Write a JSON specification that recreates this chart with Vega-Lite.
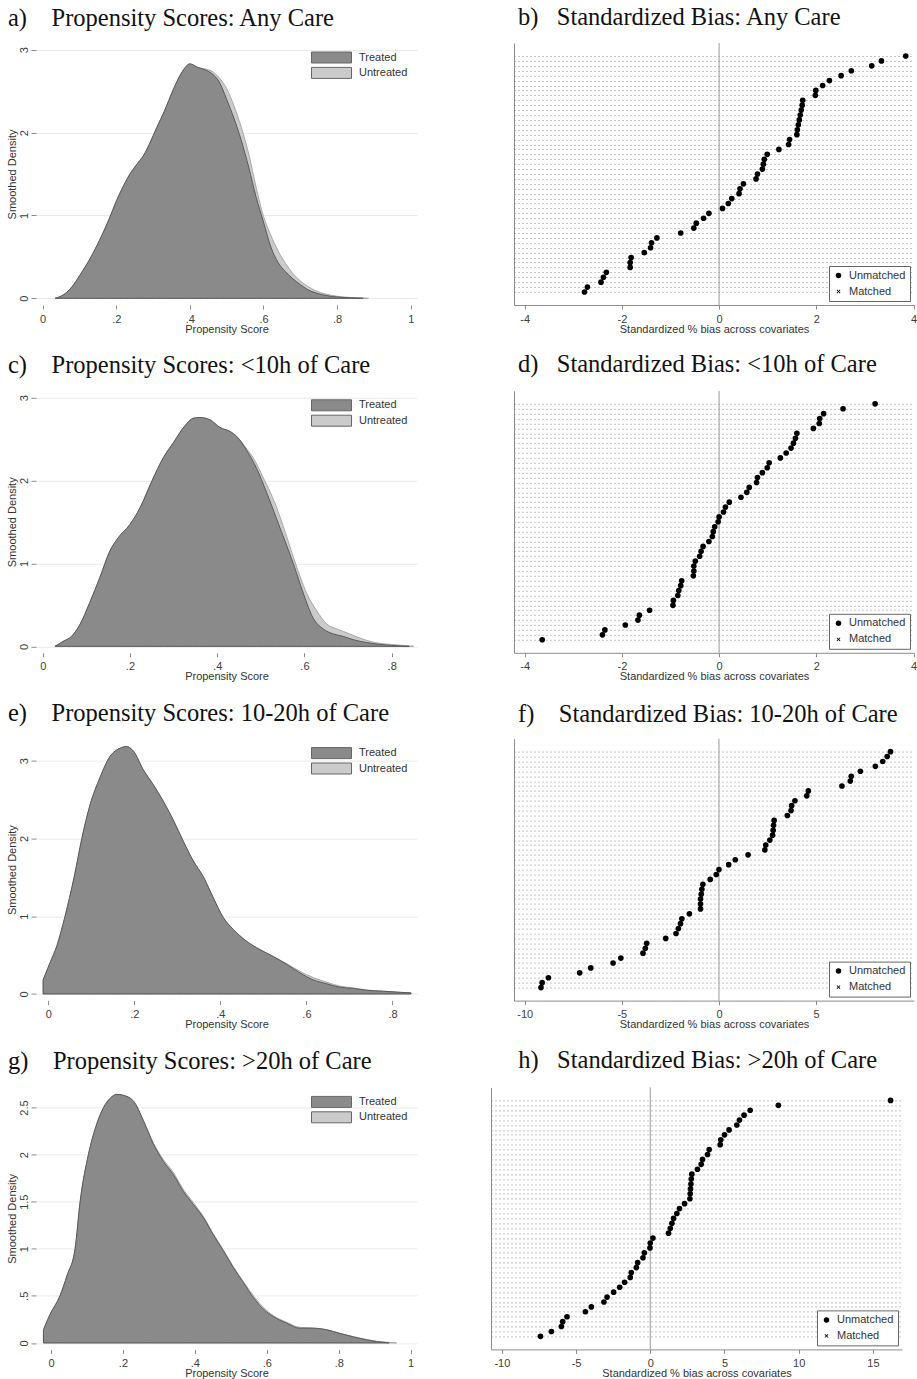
{
"$schema":"https://vega.github.io/schema/vega-lite/v6.json",
"padding":{"left":6,"top":5,"right":0,"bottom":0},
"background":"white",
"datasets":{
"dens_a":[
{"group":"Treated","score":0.034,"density":0},{"group":"Treated","score":0.05,"density":0.025},{"group":"Treated","score":0.065,"density":0.07},{"group":"Treated","score":0.08,"density":0.14},{"group":"Treated","score":0.1,"density":0.27},{"group":"Treated","score":0.12,"density":0.41},{"group":"Treated","score":0.14,"density":0.57},{"group":"Treated","score":0.16,"density":0.75},{"group":"Treated","score":0.18,"density":0.95},{"group":"Treated","score":0.2,"density":1.17},{"group":"Treated","score":0.22,"density":1.36},{"group":"Treated","score":0.24,"density":1.52},{"group":"Treated","score":0.26,"density":1.64},{"group":"Treated","score":0.275,"density":1.73},{"group":"Treated","score":0.29,"density":1.86},{"group":"Treated","score":0.31,"density":2.06},{"group":"Treated","score":0.33,"density":2.25},{"group":"Treated","score":0.355,"density":2.52},{"group":"Treated","score":0.38,"density":2.74},{"group":"Treated","score":0.4,"density":2.83},{"group":"Treated","score":0.42,"density":2.79},{"group":"Treated","score":0.44,"density":2.76},{"group":"Treated","score":0.46,"density":2.71},{"group":"Treated","score":0.48,"density":2.61},{"group":"Treated","score":0.5,"density":2.4},{"group":"Treated","score":0.52,"density":2.17},{"group":"Treated","score":0.54,"density":1.9},{"group":"Treated","score":0.56,"density":1.58},{"group":"Treated","score":0.58,"density":1.22},{"group":"Treated","score":0.6,"density":0.92},{"group":"Treated","score":0.62,"density":0.62},{"group":"Treated","score":0.64,"density":0.43},{"group":"Treated","score":0.66,"density":0.32},{"group":"Treated","score":0.68,"density":0.235},{"group":"Treated","score":0.7,"density":0.165},{"group":"Treated","score":0.72,"density":0.105},{"group":"Treated","score":0.75,"density":0.055},{"group":"Treated","score":0.79,"density":0.02},{"group":"Treated","score":0.84,"density":0.005},{"group":"Treated","score":0.87,"density":0},
{"group":"Untreated","score":0.034,"density":0},{"group":"Untreated","score":0.05,"density":0.025},{"group":"Untreated","score":0.065,"density":0.07},{"group":"Untreated","score":0.08,"density":0.14},{"group":"Untreated","score":0.1,"density":0.27},{"group":"Untreated","score":0.12,"density":0.41},{"group":"Untreated","score":0.14,"density":0.57},{"group":"Untreated","score":0.16,"density":0.75},{"group":"Untreated","score":0.18,"density":0.95},{"group":"Untreated","score":0.2,"density":1.17},{"group":"Untreated","score":0.22,"density":1.36},{"group":"Untreated","score":0.24,"density":1.52},{"group":"Untreated","score":0.26,"density":1.64},{"group":"Untreated","score":0.275,"density":1.73},{"group":"Untreated","score":0.29,"density":1.86},{"group":"Untreated","score":0.31,"density":2.06},{"group":"Untreated","score":0.33,"density":2.25},{"group":"Untreated","score":0.355,"density":2.52},{"group":"Untreated","score":0.38,"density":2.74},{"group":"Untreated","score":0.4,"density":2.82},{"group":"Untreated","score":0.42,"density":2.78},{"group":"Untreated","score":0.44,"density":2.77},{"group":"Untreated","score":0.46,"density":2.74},{"group":"Untreated","score":0.48,"density":2.66},{"group":"Untreated","score":0.5,"density":2.53},{"group":"Untreated","score":0.52,"density":2.32},{"group":"Untreated","score":0.54,"density":2.06},{"group":"Untreated","score":0.56,"density":1.74},{"group":"Untreated","score":0.58,"density":1.34},{"group":"Untreated","score":0.6,"density":0.99},{"group":"Untreated","score":0.62,"density":0.76},{"group":"Untreated","score":0.64,"density":0.57},{"group":"Untreated","score":0.66,"density":0.42},{"group":"Untreated","score":0.68,"density":0.3},{"group":"Untreated","score":0.7,"density":0.21},{"group":"Untreated","score":0.72,"density":0.145},{"group":"Untreated","score":0.74,"density":0.095},{"group":"Untreated","score":0.77,"density":0.05},{"group":"Untreated","score":0.8,"density":0.024},{"group":"Untreated","score":0.84,"density":0.009},{"group":"Untreated","score":0.885,"density":0}
],
"dens_c":[
{"group":"Treated","score":0.028,"density":0},{"group":"Treated","score":0.047,"density":0.06},{"group":"Treated","score":0.066,"density":0.12},{"group":"Treated","score":0.086,"density":0.27},{"group":"Treated","score":0.108,"density":0.53},{"group":"Treated","score":0.131,"density":0.83},{"group":"Treated","score":0.154,"density":1.15},{"group":"Treated","score":0.173,"density":1.31},{"group":"Treated","score":0.2,"density":1.47},{"group":"Treated","score":0.223,"density":1.67},{"group":"Treated","score":0.25,"density":1.99},{"group":"Treated","score":0.277,"density":2.28},{"group":"Treated","score":0.3,"density":2.46},{"group":"Treated","score":0.326,"density":2.66},{"group":"Treated","score":0.345,"density":2.75},{"group":"Treated","score":0.36,"density":2.76},{"group":"Treated","score":0.384,"density":2.73},{"group":"Treated","score":0.406,"density":2.64},{"group":"Treated","score":0.43,"density":2.59},{"group":"Treated","score":0.445,"density":2.53},{"group":"Treated","score":0.468,"density":2.36},{"group":"Treated","score":0.49,"density":2.15},{"group":"Treated","score":0.513,"density":1.86},{"group":"Treated","score":0.536,"density":1.54},{"group":"Treated","score":0.559,"density":1.22},{"group":"Treated","score":0.575,"density":0.99},{"group":"Treated","score":0.598,"density":0.63},{"group":"Treated","score":0.62,"density":0.34},{"group":"Treated","score":0.643,"density":0.21},{"group":"Treated","score":0.666,"density":0.15},{"group":"Treated","score":0.689,"density":0.12},{"group":"Treated","score":0.712,"density":0.08},{"group":"Treated","score":0.743,"density":0.045},{"group":"Treated","score":0.78,"density":0.02},{"group":"Treated","score":0.82,"density":0.004},{"group":"Treated","score":0.84,"density":0},
{"group":"Untreated","score":0.028,"density":0},{"group":"Untreated","score":0.047,"density":0.06},{"group":"Untreated","score":0.066,"density":0.12},{"group":"Untreated","score":0.086,"density":0.27},{"group":"Untreated","score":0.108,"density":0.53},{"group":"Untreated","score":0.131,"density":0.83},{"group":"Untreated","score":0.154,"density":1.15},{"group":"Untreated","score":0.173,"density":1.31},{"group":"Untreated","score":0.2,"density":1.47},{"group":"Untreated","score":0.223,"density":1.67},{"group":"Untreated","score":0.25,"density":1.99},{"group":"Untreated","score":0.277,"density":2.28},{"group":"Untreated","score":0.3,"density":2.46},{"group":"Untreated","score":0.326,"density":2.66},{"group":"Untreated","score":0.345,"density":2.75},{"group":"Untreated","score":0.36,"density":2.76},{"group":"Untreated","score":0.384,"density":2.73},{"group":"Untreated","score":0.406,"density":2.64},{"group":"Untreated","score":0.43,"density":2.59},{"group":"Untreated","score":0.445,"density":2.53},{"group":"Untreated","score":0.468,"density":2.38},{"group":"Untreated","score":0.483,"density":2.27},{"group":"Untreated","score":0.506,"density":2.03},{"group":"Untreated","score":0.529,"density":1.77},{"group":"Untreated","score":0.55,"density":1.47},{"group":"Untreated","score":0.575,"density":1.07},{"group":"Untreated","score":0.59,"density":0.84},{"group":"Untreated","score":0.605,"density":0.64},{"group":"Untreated","score":0.628,"density":0.43},{"group":"Untreated","score":0.651,"density":0.27},{"group":"Untreated","score":0.674,"density":0.21},{"group":"Untreated","score":0.704,"density":0.15},{"group":"Untreated","score":0.727,"density":0.1},{"group":"Untreated","score":0.758,"density":0.05},{"group":"Untreated","score":0.796,"density":0.024},{"group":"Untreated","score":0.842,"density":0.004},{"group":"Untreated","score":0.85,"density":0}
],
"dens_e":[
{"group":"Treated","score":-0.012,"density":0.18},{"group":"Treated","score":0.004,"density":0.4},{"group":"Treated","score":0.02,"density":0.62},{"group":"Treated","score":0.039,"density":1.0},{"group":"Treated","score":0.06,"density":1.5},{"group":"Treated","score":0.078,"density":2.0},{"group":"Treated","score":0.097,"density":2.43},{"group":"Treated","score":0.12,"density":2.78},{"group":"Treated","score":0.143,"density":3.05},{"group":"Treated","score":0.167,"density":3.16},{"group":"Treated","score":0.182,"density":3.18},{"group":"Treated","score":0.198,"density":3.12},{"group":"Treated","score":0.221,"density":2.88},{"group":"Treated","score":0.244,"density":2.69},{"group":"Treated","score":0.267,"density":2.48},{"group":"Treated","score":0.29,"density":2.24},{"group":"Treated","score":0.314,"density":1.96},{"group":"Treated","score":0.337,"density":1.71},{"group":"Treated","score":0.36,"density":1.51},{"group":"Treated","score":0.384,"density":1.23},{"group":"Treated","score":0.407,"density":0.98},{"group":"Treated","score":0.43,"density":0.83},{"group":"Treated","score":0.46,"density":0.68},{"group":"Treated","score":0.492,"density":0.57},{"group":"Treated","score":0.523,"density":0.48},{"group":"Treated","score":0.554,"density":0.38},{"group":"Treated","score":0.585,"density":0.27},{"group":"Treated","score":0.616,"density":0.18},{"group":"Treated","score":0.647,"density":0.13},{"group":"Treated","score":0.678,"density":0.086},{"group":"Treated","score":0.709,"density":0.07},{"group":"Treated","score":0.74,"density":0.047},{"group":"Treated","score":0.779,"density":0.034},{"group":"Treated","score":0.818,"density":0.02},{"group":"Treated","score":0.843,"density":0.013},
{"group":"Untreated","score":-0.012,"density":0.18},{"group":"Untreated","score":0.004,"density":0.4},{"group":"Untreated","score":0.02,"density":0.62},{"group":"Untreated","score":0.039,"density":1.0},{"group":"Untreated","score":0.06,"density":1.5},{"group":"Untreated","score":0.078,"density":2.0},{"group":"Untreated","score":0.097,"density":2.43},{"group":"Untreated","score":0.12,"density":2.78},{"group":"Untreated","score":0.143,"density":3.05},{"group":"Untreated","score":0.167,"density":3.16},{"group":"Untreated","score":0.182,"density":3.18},{"group":"Untreated","score":0.198,"density":3.12},{"group":"Untreated","score":0.221,"density":2.88},{"group":"Untreated","score":0.244,"density":2.69},{"group":"Untreated","score":0.267,"density":2.48},{"group":"Untreated","score":0.29,"density":2.24},{"group":"Untreated","score":0.314,"density":1.96},{"group":"Untreated","score":0.337,"density":1.71},{"group":"Untreated","score":0.36,"density":1.51},{"group":"Untreated","score":0.384,"density":1.23},{"group":"Untreated","score":0.407,"density":0.98},{"group":"Untreated","score":0.43,"density":0.83},{"group":"Untreated","score":0.46,"density":0.68},{"group":"Untreated","score":0.492,"density":0.57},{"group":"Untreated","score":0.523,"density":0.48},{"group":"Untreated","score":0.554,"density":0.39},{"group":"Untreated","score":0.585,"density":0.29},{"group":"Untreated","score":0.616,"density":0.21},{"group":"Untreated","score":0.647,"density":0.15},{"group":"Untreated","score":0.678,"density":0.1},{"group":"Untreated","score":0.709,"density":0.077},{"group":"Untreated","score":0.74,"density":0.05},{"group":"Untreated","score":0.779,"density":0.035},{"group":"Untreated","score":0.818,"density":0.021},{"group":"Untreated","score":0.843,"density":0.013}
],
"dens_g":[
{"group":"Treated","score":-0.021,"density":0.14},{"group":"Treated","score":-0.003,"density":0.3},{"group":"Treated","score":0.025,"density":0.5},{"group":"Treated","score":0.045,"density":0.72},{"group":"Treated","score":0.067,"density":1.0},{"group":"Treated","score":0.081,"density":1.5},{"group":"Treated","score":0.104,"density":2.0},{"group":"Treated","score":0.125,"density":2.3},{"group":"Treated","score":0.146,"density":2.5},{"group":"Treated","score":0.165,"density":2.6},{"group":"Treated","score":0.183,"density":2.64},{"group":"Treated","score":0.201,"density":2.63},{"group":"Treated","score":0.229,"density":2.57},{"group":"Treated","score":0.257,"density":2.36},{"group":"Treated","score":0.285,"density":2.11},{"group":"Treated","score":0.312,"density":1.93},{"group":"Treated","score":0.34,"density":1.79},{"group":"Treated","score":0.368,"density":1.61},{"group":"Treated","score":0.396,"density":1.47},{"group":"Treated","score":0.424,"density":1.33},{"group":"Treated","score":0.451,"density":1.15},{"group":"Treated","score":0.479,"density":0.98},{"group":"Treated","score":0.507,"density":0.8},{"group":"Treated","score":0.535,"density":0.64},{"group":"Treated","score":0.563,"density":0.48},{"group":"Treated","score":0.59,"density":0.36},{"group":"Treated","score":0.618,"density":0.28},{"group":"Treated","score":0.655,"density":0.21},{"group":"Treated","score":0.692,"density":0.156},{"group":"Treated","score":0.729,"density":0.156},{"group":"Treated","score":0.766,"density":0.14},{"group":"Treated","score":0.804,"density":0.1},{"group":"Treated","score":0.841,"density":0.064},{"group":"Treated","score":0.878,"density":0.032},{"group":"Treated","score":0.905,"density":0.014},{"group":"Treated","score":0.933,"density":0.003},{"group":"Treated","score":0.94,"density":0},
{"group":"Untreated","score":-0.021,"density":0.14},{"group":"Untreated","score":-0.003,"density":0.3},{"group":"Untreated","score":0.025,"density":0.5},{"group":"Untreated","score":0.045,"density":0.72},{"group":"Untreated","score":0.067,"density":1.0},{"group":"Untreated","score":0.081,"density":1.5},{"group":"Untreated","score":0.104,"density":2.0},{"group":"Untreated","score":0.125,"density":2.3},{"group":"Untreated","score":0.146,"density":2.5},{"group":"Untreated","score":0.165,"density":2.6},{"group":"Untreated","score":0.183,"density":2.64},{"group":"Untreated","score":0.201,"density":2.63},{"group":"Untreated","score":0.229,"density":2.57},{"group":"Untreated","score":0.257,"density":2.36},{"group":"Untreated","score":0.285,"density":2.12},{"group":"Untreated","score":0.312,"density":1.95},{"group":"Untreated","score":0.34,"density":1.81},{"group":"Untreated","score":0.368,"density":1.63},{"group":"Untreated","score":0.396,"density":1.49},{"group":"Untreated","score":0.424,"density":1.34},{"group":"Untreated","score":0.451,"density":1.16},{"group":"Untreated","score":0.479,"density":0.99},{"group":"Untreated","score":0.507,"density":0.81},{"group":"Untreated","score":0.535,"density":0.65},{"group":"Untreated","score":0.563,"density":0.5},{"group":"Untreated","score":0.59,"density":0.38},{"group":"Untreated","score":0.618,"density":0.29},{"group":"Untreated","score":0.655,"density":0.22},{"group":"Untreated","score":0.692,"density":0.165},{"group":"Untreated","score":0.729,"density":0.158},{"group":"Untreated","score":0.766,"density":0.14},{"group":"Untreated","score":0.804,"density":0.1},{"group":"Untreated","score":0.841,"density":0.066},{"group":"Untreated","score":0.878,"density":0.036},{"group":"Untreated","score":0.905,"density":0.018},{"group":"Untreated","score":0.933,"density":0.007},{"group":"Untreated","score":0.961,"density":0}
],
"bias_b":[
{"rank":49,"bias":3.84,"series":"Unmatched"},{"rank":48,"bias":3.34,"series":"Unmatched"},{"rank":47,"bias":3.14,"series":"Unmatched"},{"rank":46,"bias":2.72,"series":"Unmatched"},{"rank":45,"bias":2.51,"series":"Unmatched"},{"rank":44,"bias":2.27,"series":"Unmatched"},{"rank":43,"bias":2.13,"series":"Unmatched"},{"rank":42,"bias":1.99,"series":"Unmatched"},{"rank":41,"bias":1.98,"series":"Unmatched"},{"rank":40,"bias":1.72,"series":"Unmatched"},{"rank":39,"bias":1.71,"series":"Unmatched"},{"rank":38,"bias":1.69,"series":"Unmatched"},{"rank":37,"bias":1.67,"series":"Unmatched"},{"rank":36,"bias":1.65,"series":"Unmatched"},{"rank":35,"bias":1.63,"series":"Unmatched"},{"rank":34,"bias":1.61,"series":"Unmatched"},{"rank":33,"bias":1.6,"series":"Unmatched"},{"rank":32,"bias":1.45,"series":"Unmatched"},{"rank":31,"bias":1.43,"series":"Unmatched"},{"rank":30,"bias":1.23,"series":"Unmatched"},{"rank":29,"bias":0.99,"series":"Unmatched"},{"rank":28,"bias":0.93,"series":"Unmatched"},{"rank":27,"bias":0.91,"series":"Unmatched"},{"rank":26,"bias":0.89,"series":"Unmatched"},{"rank":25,"bias":0.79,"series":"Unmatched"},{"rank":24,"bias":0.76,"series":"Unmatched"},{"rank":23,"bias":0.5,"series":"Unmatched"},{"rank":22,"bias":0.43,"series":"Unmatched"},{"rank":21,"bias":0.41,"series":"Unmatched"},{"rank":20,"bias":0.26,"series":"Unmatched"},{"rank":19,"bias":0.19,"series":"Unmatched"},{"rank":18,"bias":0.07,"series":"Unmatched"},{"rank":17,"bias":-0.21,"series":"Unmatched"},{"rank":16,"bias":-0.32,"series":"Unmatched"},{"rank":15,"bias":-0.47,"series":"Unmatched"},{"rank":14,"bias":-0.52,"series":"Unmatched"},{"rank":13,"bias":-0.79,"series":"Unmatched"},{"rank":12,"bias":-1.28,"series":"Unmatched"},{"rank":11,"bias":-1.39,"series":"Unmatched"},{"rank":10,"bias":-1.41,"series":"Unmatched"},{"rank":9,"bias":-1.54,"series":"Unmatched"},{"rank":8,"bias":-1.81,"series":"Unmatched"},{"rank":7,"bias":-1.83,"series":"Unmatched"},{"rank":6,"bias":-1.83,"series":"Unmatched"},{"rank":5,"bias":-2.32,"series":"Unmatched"},{"rank":4,"bias":-2.38,"series":"Unmatched"},{"rank":3,"bias":-2.43,"series":"Unmatched"},{"rank":2,"bias":-2.71,"series":"Unmatched"},{"rank":1,"bias":-2.77,"series":"Unmatched"}
],
"bias_d":[
{"rank":49,"bias":3.21,"series":"Unmatched"},{"rank":48,"bias":2.55,"series":"Unmatched"},{"rank":47,"bias":2.15,"series":"Unmatched"},{"rank":46,"bias":2.07,"series":"Unmatched"},{"rank":45,"bias":2.06,"series":"Unmatched"},{"rank":44,"bias":1.94,"series":"Unmatched"},{"rank":43,"bias":1.6,"series":"Unmatched"},{"rank":42,"bias":1.57,"series":"Unmatched"},{"rank":41,"bias":1.53,"series":"Unmatched"},{"rank":40,"bias":1.48,"series":"Unmatched"},{"rank":39,"bias":1.38,"series":"Unmatched"},{"rank":38,"bias":1.26,"series":"Unmatched"},{"rank":37,"bias":1.03,"series":"Unmatched"},{"rank":36,"bias":0.99,"series":"Unmatched"},{"rank":35,"bias":0.89,"series":"Unmatched"},{"rank":34,"bias":0.79,"series":"Unmatched"},{"rank":33,"bias":0.77,"series":"Unmatched"},{"rank":32,"bias":0.62,"series":"Unmatched"},{"rank":31,"bias":0.57,"series":"Unmatched"},{"rank":30,"bias":0.45,"series":"Unmatched"},{"rank":29,"bias":0.21,"series":"Unmatched"},{"rank":28,"bias":0.13,"series":"Unmatched"},{"rank":27,"bias":0.09,"series":"Unmatched"},{"rank":26,"bias":0.0,"series":"Unmatched"},{"rank":25,"bias":-0.02,"series":"Unmatched"},{"rank":24,"bias":-0.09,"series":"Unmatched"},{"rank":23,"bias":-0.12,"series":"Unmatched"},{"rank":22,"bias":-0.14,"series":"Unmatched"},{"rank":21,"bias":-0.21,"series":"Unmatched"},{"rank":20,"bias":-0.33,"series":"Unmatched"},{"rank":19,"bias":-0.37,"series":"Unmatched"},{"rank":18,"bias":-0.4,"series":"Unmatched"},{"rank":17,"bias":-0.49,"series":"Unmatched"},{"rank":16,"bias":-0.52,"series":"Unmatched"},{"rank":15,"bias":-0.52,"series":"Unmatched"},{"rank":14,"bias":-0.53,"series":"Unmatched"},{"rank":13,"bias":-0.77,"series":"Unmatched"},{"rank":12,"bias":-0.79,"series":"Unmatched"},{"rank":11,"bias":-0.83,"series":"Unmatched"},{"rank":10,"bias":-0.85,"series":"Unmatched"},{"rank":9,"bias":-0.94,"series":"Unmatched"},{"rank":8,"bias":-0.95,"series":"Unmatched"},{"rank":7,"bias":-1.43,"series":"Unmatched"},{"rank":6,"bias":-1.64,"series":"Unmatched"},{"rank":5,"bias":-1.67,"series":"Unmatched"},{"rank":4,"bias":-1.93,"series":"Unmatched"},{"rank":3,"bias":-2.35,"series":"Unmatched"},{"rank":2,"bias":-2.4,"series":"Unmatched"},{"rank":1,"bias":-3.64,"series":"Unmatched"}
],
"bias_f":[
{"rank":49,"bias":8.83,"series":"Unmatched"},{"rank":48,"bias":8.66,"series":"Unmatched"},{"rank":47,"bias":8.43,"series":"Unmatched"},{"rank":46,"bias":8.05,"series":"Unmatched"},{"rank":45,"bias":7.28,"series":"Unmatched"},{"rank":44,"bias":6.81,"series":"Unmatched"},{"rank":43,"bias":6.76,"series":"Unmatched"},{"rank":42,"bias":6.33,"series":"Unmatched"},{"rank":41,"bias":4.6,"series":"Unmatched"},{"rank":40,"bias":4.52,"series":"Unmatched"},{"rank":39,"bias":3.91,"series":"Unmatched"},{"rank":38,"bias":3.74,"series":"Unmatched"},{"rank":37,"bias":3.71,"series":"Unmatched"},{"rank":36,"bias":3.52,"series":"Unmatched"},{"rank":35,"bias":2.84,"series":"Unmatched"},{"rank":34,"bias":2.81,"series":"Unmatched"},{"rank":33,"bias":2.79,"series":"Unmatched"},{"rank":32,"bias":2.76,"series":"Unmatched"},{"rank":31,"bias":2.62,"series":"Unmatched"},{"rank":30,"bias":2.41,"series":"Unmatched"},{"rank":29,"bias":2.36,"series":"Unmatched"},{"rank":28,"bias":1.5,"series":"Unmatched"},{"rank":27,"bias":0.84,"series":"Unmatched"},{"rank":26,"bias":0.5,"series":"Unmatched"},{"rank":25,"bias":0.0,"series":"Unmatched"},{"rank":24,"bias":-0.14,"series":"Unmatched"},{"rank":23,"bias":-0.45,"series":"Unmatched"},{"rank":22,"bias":-0.83,"series":"Unmatched"},{"rank":21,"bias":-0.88,"series":"Unmatched"},{"rank":20,"bias":-0.91,"series":"Unmatched"},{"rank":19,"bias":-0.95,"series":"Unmatched"},{"rank":18,"bias":-0.95,"series":"Unmatched"},{"rank":17,"bias":-0.95,"series":"Unmatched"},{"rank":16,"bias":-1.52,"series":"Unmatched"},{"rank":15,"bias":-1.91,"series":"Unmatched"},{"rank":14,"bias":-1.98,"series":"Unmatched"},{"rank":13,"bias":-2.09,"series":"Unmatched"},{"rank":12,"bias":-2.21,"series":"Unmatched"},{"rank":11,"bias":-2.74,"series":"Unmatched"},{"rank":10,"bias":-3.72,"series":"Unmatched"},{"rank":9,"bias":-3.79,"series":"Unmatched"},{"rank":8,"bias":-3.91,"series":"Unmatched"},{"rank":7,"bias":-5.05,"series":"Unmatched"},{"rank":6,"bias":-5.45,"series":"Unmatched"},{"rank":5,"bias":-6.6,"series":"Unmatched"},{"rank":4,"bias":-7.17,"series":"Unmatched"},{"rank":3,"bias":-8.78,"series":"Unmatched"},{"rank":2,"bias":-9.1,"series":"Unmatched"},{"rank":1,"bias":-9.16,"series":"Unmatched"}
],
"bias_h":[
{"rank":49,"bias":16.19,"series":"Unmatched"},{"rank":48,"bias":8.63,"series":"Unmatched"},{"rank":47,"bias":6.73,"series":"Unmatched"},{"rank":46,"bias":6.32,"series":"Unmatched"},{"rank":45,"bias":6.01,"series":"Unmatched"},{"rank":44,"bias":5.83,"series":"Unmatched"},{"rank":43,"bias":5.31,"series":"Unmatched"},{"rank":42,"bias":5.0,"series":"Unmatched"},{"rank":41,"bias":4.75,"series":"Unmatched"},{"rank":40,"bias":4.71,"series":"Unmatched"},{"rank":39,"bias":3.97,"series":"Unmatched"},{"rank":38,"bias":3.86,"series":"Unmatched"},{"rank":37,"bias":3.52,"series":"Unmatched"},{"rank":36,"bias":3.43,"series":"Unmatched"},{"rank":35,"bias":3.18,"series":"Unmatched"},{"rank":34,"bias":2.8,"series":"Unmatched"},{"rank":33,"bias":2.76,"series":"Unmatched"},{"rank":32,"bias":2.74,"series":"Unmatched"},{"rank":31,"bias":2.71,"series":"Unmatched"},{"rank":30,"bias":2.69,"series":"Unmatched"},{"rank":29,"bias":2.67,"series":"Unmatched"},{"rank":28,"bias":2.31,"series":"Unmatched"},{"rank":27,"bias":1.97,"series":"Unmatched"},{"rank":26,"bias":1.79,"series":"Unmatched"},{"rank":25,"bias":1.57,"series":"Unmatched"},{"rank":24,"bias":1.46,"series":"Unmatched"},{"rank":23,"bias":1.35,"series":"Unmatched"},{"rank":22,"bias":1.23,"series":"Unmatched"},{"rank":21,"bias":0.18,"series":"Unmatched"},{"rank":20,"bias":0.0,"series":"Unmatched"},{"rank":19,"bias":-0.02,"series":"Unmatched"},{"rank":18,"bias":-0.4,"series":"Unmatched"},{"rank":17,"bias":-0.49,"series":"Unmatched"},{"rank":16,"bias":-0.85,"series":"Unmatched"},{"rank":15,"bias":-0.94,"series":"Unmatched"},{"rank":14,"bias":-1.28,"series":"Unmatched"},{"rank":13,"bias":-1.35,"series":"Unmatched"},{"rank":12,"bias":-1.73,"series":"Unmatched"},{"rank":11,"bias":-2.06,"series":"Unmatched"},{"rank":10,"bias":-2.47,"series":"Unmatched"},{"rank":9,"bias":-2.91,"series":"Unmatched"},{"rank":8,"bias":-3.12,"series":"Unmatched"},{"rank":7,"bias":-3.97,"series":"Unmatched"},{"rank":6,"bias":-4.37,"series":"Unmatched"},{"rank":5,"bias":-5.61,"series":"Unmatched"},{"rank":4,"bias":-5.9,"series":"Unmatched"},{"rank":3,"bias":-5.99,"series":"Unmatched"},{"rank":2,"bias":-6.66,"series":"Unmatched"},{"rank":1,"bias":-7.4,"series":"Unmatched"}
]
},
"vconcat":[
{"hconcat":[
{"width":381,"height":262,
 "title":{"text":"a)\u00a0\u00a0\u00a0\u00a0Propensity Scores: Any Care","dx":-28,"offset":11.6},
 "data":{"name":"dens_a"},
 "encoding":{
  "x":{"field":"score","type":"quantitative","scale":{"domain":[-0.018,1.017],"nice":false,"zero":false},"axis":{"values":[0,0.2,0.4,0.6,0.8,1],"title":"Propensity Score","domain":false,"tickSize":4,"labelPadding":4,"labelFlush":false,"titleY":24,"titleBaseline":"middle","labelExpr":"datum.value > 0 && datum.value < 1 ? replace(format(datum.value, '.1f'), '0.', '.') : format(datum.value, '~g')"}},
  "y":{"field":"density","type":"quantitative","stack":null,"scale":{"domain":[-0.081,3.081],"nice":false,"zero":false},"axis":{"values":[0,1,2,3],"title":"Smoothed Density","domain":false,"grid":true,"gridColor":"#ebebeb","tickSize":5,"labelAngle":-90,"labelAlign":"center","labelBaseline":"bottom","labelPadding":2,"labelFlush":false,"titleX":-23.3,"titleY":131,"titleAlign":"center","titleBaseline":"middle","labelExpr":"datum.value > 0 && datum.value < 1 ? replace(format(datum.value, '.1f'), '0.', '.') : format(datum.value, '~g')"}},
  "y2":{"datum":0},
  "color":{"field":"group","type":"nominal","scale":{"domain":["Treated","Untreated"],"range":["#8a8a8a","#cbcbcb"]},"legend":{"title":null,"orient":"none","legendX":290,"legendY":9,"symbolType":"M-4,-1.1H4V1.1H-4Z","symbolSize":100,"labelOffset":22,"rowPadding":0.4,"padding":0,"symbolStrokeColor":"#666666","symbolStrokeWidth":1,"symbolOpacity":1}}
 },
 "layer":[
  {"transform":[{"filter":"datum.group === 'Untreated'"}],"mark":{"type":"area","interpolate":"monotone","stroke":"#a8a8a8","strokeWidth":1,"opacity":1}},
  {"transform":[{"filter":"datum.group === 'Treated'"}],"mark":{"type":"area","interpolate":"monotone","stroke":"#595959","strokeWidth":1,"opacity":1}}
 ]
},
{"width":400,"height":262,
 "title":{"text":"b)\u00a0\u00a0\u00a0Standardized Bias: Any Care","dx":4,"offset":11.6},
 "encoding":{"x":{"field":"bias","type":"quantitative","scale":{"domain":[-4.22,4.01],"nice":false,"zero":false},"axis":{"values":[-4,-2,0,2,4],"title":"Standardized % bias across covariates","tickSize":4,"labelPadding":4,"labelFlush":false,"titleY":24,"titleBaseline":"middle","labelExpr":"'' + datum.value"}}},
 "layer":[
  {"data":{"values":[{"bias":0}]},"mark":{"type":"rule","color":"#9a9a9a","strokeWidth":1}},
  {"data":{"name":"bias_b"},"mark":{"type":"point","filled":true,"size":32,"opacity":1,"color":"#000000"},
   "encoding":{
    "y":{"field":"rank","type":"quantitative","scale":{"domain":[-1.65,51.65],"nice":false,"zero":false},"axis":{"values":[1,2,3,4,5,6,7,8,9,10,11,12,13,14,15,16,17,18,19,20,21,22,23,24,25,26,27,28,29,30,31,32,33,34,35,36,37,38,39,40,41,42,43,44,45,46,47,48,49],"labels":false,"ticks":false,"domain":true,"grid":true,"gridDash":[1,3],"gridColor":"#8a8a8a","title":null}},
    "shape":{"field":"series","type":"nominal","scale":{"domain":["Unmatched","Matched"],"range":["circle","M-0.7,-0.48L-0.48,-0.7L0,-0.22L0.48,-0.7L0.7,-0.48L0.22,0L0.7,0.48L0.48,0.7L0,0.22L-0.48,0.7L-0.7,0.48L-0.22,0Z"]},"legend":{"title":null,"orient":"bottom-right","offset":4,"strokeColor":"#666666","fillColor":"#ffffff","padding":4,"symbolSize":30,"labelOffset":5,"rowPadding":4,"symbolFillColor":"#000000","symbolStrokeWidth":0}}
   }}
 ]
}
],"spacing":97,"bounds":"flush","resolve":{"scale":{"color":"independent","shape":"independent"}}},
{"hconcat":[
{"width":381,"height":262,
 "title":{"text":"c)\u00a0\u00a0\u00a0\u00a0Propensity Scores: <10h of Care","dx":-28,"offset":12.6},
 "data":{"name":"dens_c"},
 "encoding":{
  "x":{"field":"score","type":"quantitative","scale":{"domain":[-0.0154,0.858],"nice":false,"zero":false},"axis":{"values":[0,0.2,0.4,0.6,0.8],"title":"Propensity Score","domain":false,"tickSize":4,"labelPadding":4,"labelFlush":false,"titleY":24,"titleBaseline":"middle","labelExpr":"datum.value > 0 && datum.value < 1 ? replace(format(datum.value, '.1f'), '0.', '.') : format(datum.value, '~g')"}},
  "y":{"field":"density","type":"quantitative","stack":null,"scale":{"domain":[-0.078,3.082],"nice":false,"zero":false},"axis":{"values":[0,1,2,3],"title":"Smoothed Density","domain":false,"grid":true,"gridColor":"#ebebeb","tickSize":5,"labelAngle":-90,"labelAlign":"center","labelBaseline":"bottom","labelPadding":2,"labelFlush":false,"titleX":-23.3,"titleY":131,"titleAlign":"center","titleBaseline":"middle","labelExpr":"datum.value > 0 && datum.value < 1 ? replace(format(datum.value, '.1f'), '0.', '.') : format(datum.value, '~g')"}},
  "y2":{"datum":0},
  "color":{"field":"group","type":"nominal","scale":{"domain":["Treated","Untreated"],"range":["#8a8a8a","#cbcbcb"]},"legend":{"title":null,"orient":"none","legendX":290,"legendY":9,"symbolType":"M-4,-1.1H4V1.1H-4Z","symbolSize":100,"labelOffset":22,"rowPadding":0.4,"padding":0,"symbolStrokeColor":"#666666","symbolStrokeWidth":1,"symbolOpacity":1}}
 },
 "layer":[
  {"transform":[{"filter":"datum.group === 'Untreated'"}],"mark":{"type":"area","interpolate":"monotone","stroke":"#a8a8a8","strokeWidth":1,"opacity":1}},
  {"transform":[{"filter":"datum.group === 'Treated'"}],"mark":{"type":"area","interpolate":"monotone","stroke":"#595959","strokeWidth":1,"opacity":1}}
 ]
},
{"width":400,"height":262,
 "title":{"text":"d)\u00a0\u00a0\u00a0Standardized Bias: <10h of Care","dx":4,"offset":12.6},
 "encoding":{"x":{"field":"bias","type":"quantitative","scale":{"domain":[-4.22,4.01],"nice":false,"zero":false},"axis":{"values":[-4,-2,0,2,4],"title":"Standardized % bias across covariates","tickSize":4,"labelPadding":4,"labelFlush":false,"titleY":24,"titleBaseline":"middle","labelExpr":"'' + datum.value"}}},
 "layer":[
  {"data":{"values":[{"bias":0}]},"mark":{"type":"rule","color":"#9a9a9a","strokeWidth":1}},
  {"data":{"name":"bias_d"},"mark":{"type":"point","filled":true,"size":32,"opacity":1,"color":"#000000"},
   "encoding":{
    "y":{"field":"rank","type":"quantitative","scale":{"domain":[-1.65,51.65],"nice":false,"zero":false},"axis":{"values":[1,2,3,4,5,6,7,8,9,10,11,12,13,14,15,16,17,18,19,20,21,22,23,24,25,26,27,28,29,30,31,32,33,34,35,36,37,38,39,40,41,42,43,44,45,46,47,48,49],"labels":false,"ticks":false,"domain":true,"grid":true,"gridDash":[1,3],"gridColor":"#8a8a8a","title":null}},
    "shape":{"field":"series","type":"nominal","scale":{"domain":["Unmatched","Matched"],"range":["circle","M-0.7,-0.48L-0.48,-0.7L0,-0.22L0.48,-0.7L0.7,-0.48L0.22,0L0.7,0.48L0.48,0.7L0,0.22L-0.48,0.7L-0.7,0.48L-0.22,0Z"]},"legend":{"title":null,"orient":"bottom-right","offset":4,"strokeColor":"#666666","fillColor":"#ffffff","padding":4,"symbolSize":30,"labelOffset":5,"rowPadding":4,"symbolFillColor":"#000000","symbolStrokeWidth":0}}
   }}
 ]
}
],"spacing":97,"bounds":"flush","resolve":{"scale":{"color":"independent","shape":"independent"}}},
{"hconcat":[
{"width":381,"height":262,
 "title":{"text":"e)\u00a0\u00a0\u00a0\u00a0Propensity Scores: 10-20h of Care","dx":-28,"offset":12.6},
 "data":{"name":"dens_e"},
 "encoding":{
  "x":{"field":"score","type":"quantitative","scale":{"domain":[-0.0286,0.857],"nice":false,"zero":false},"axis":{"values":[0,0.2,0.4,0.6,0.8],"title":"Propensity Score","domain":false,"tickSize":4,"labelPadding":4,"labelFlush":false,"titleY":24,"titleBaseline":"middle","labelExpr":"datum.value > 0 && datum.value < 1 ? replace(format(datum.value, '.1f'), '0.', '.') : format(datum.value, '~g')"}},
  "y":{"field":"density","type":"quantitative","stack":null,"scale":{"domain":[-0.086,3.283],"nice":false,"zero":false},"axis":{"values":[0,1,2,3],"title":"Smoothed Density","domain":false,"grid":true,"gridColor":"#ebebeb","tickSize":5,"labelAngle":-90,"labelAlign":"center","labelBaseline":"bottom","labelPadding":2,"labelFlush":false,"titleX":-23.3,"titleY":131,"titleAlign":"center","titleBaseline":"middle","labelExpr":"datum.value > 0 && datum.value < 1 ? replace(format(datum.value, '.1f'), '0.', '.') : format(datum.value, '~g')"}},
  "y2":{"datum":0},
  "color":{"field":"group","type":"nominal","scale":{"domain":["Treated","Untreated"],"range":["#8a8a8a","#cbcbcb"]},"legend":{"title":null,"orient":"none","legendX":290,"legendY":9,"symbolType":"M-4,-1.1H4V1.1H-4Z","symbolSize":100,"labelOffset":22,"rowPadding":0.4,"padding":0,"symbolStrokeColor":"#666666","symbolStrokeWidth":1,"symbolOpacity":1}}
 },
 "layer":[
  {"transform":[{"filter":"datum.group === 'Untreated'"}],"mark":{"type":"area","interpolate":"monotone","stroke":"#a8a8a8","strokeWidth":1,"opacity":1}},
  {"transform":[{"filter":"datum.group === 'Treated'"}],"mark":{"type":"area","interpolate":"monotone","stroke":"#595959","strokeWidth":1,"opacity":1}}
 ]
},
{"width":400,"height":262,
 "title":{"text":"f)\u00a0\u00a0\u00a0\u00a0Standardized Bias: 10-20h of Care","dx":4,"offset":10.6},
 "encoding":{"x":{"field":"bias","type":"quantitative","scale":{"domain":[-10.55,10.04],"nice":false,"zero":false},"axis":{"values":[-10,-5,0,5],"title":"Standardized % bias across covariates","tickSize":4,"labelPadding":4,"labelFlush":false,"titleY":24,"titleBaseline":"middle","labelExpr":"'' + datum.value"}}},
 "layer":[
  {"data":{"values":[{"bias":0}]},"mark":{"type":"rule","color":"#9a9a9a","strokeWidth":1}},
  {"data":{"name":"bias_f"},"mark":{"type":"point","filled":true,"size":32,"opacity":1,"color":"#000000"},
   "encoding":{
    "y":{"field":"rank","type":"quantitative","scale":{"domain":[-1.65,51.65],"nice":false,"zero":false},"axis":{"values":[1,2,3,4,5,6,7,8,9,10,11,12,13,14,15,16,17,18,19,20,21,22,23,24,25,26,27,28,29,30,31,32,33,34,35,36,37,38,39,40,41,42,43,44,45,46,47,48,49],"labels":false,"ticks":false,"domain":true,"grid":true,"gridDash":[1,3],"gridColor":"#8a8a8a","title":null}},
    "shape":{"field":"series","type":"nominal","scale":{"domain":["Unmatched","Matched"],"range":["circle","M-0.7,-0.48L-0.48,-0.7L0,-0.22L0.48,-0.7L0.7,-0.48L0.22,0L0.7,0.48L0.48,0.7L0,0.22L-0.48,0.7L-0.7,0.48L-0.22,0Z"]},"legend":{"title":null,"orient":"bottom-right","offset":4,"strokeColor":"#666666","fillColor":"#ffffff","padding":4,"symbolSize":30,"labelOffset":5,"rowPadding":4,"symbolFillColor":"#000000","symbolStrokeWidth":0}}
   }}
 ]
}
],"spacing":97,"bounds":"flush","resolve":{"scale":{"color":"independent","shape":"independent"}}},
{"hconcat":[
{"width":381,"height":262,
 "title":{"text":"g)\u00a0\u00a0\u00a0\u00a0Propensity Scores: >20h of Care","dx":-28,"offset":12.6},
 "data":{"name":"dens_g"},
 "encoding":{
  "x":{"field":"score","type":"quantitative","scale":{"domain":[-0.0417,1.0176],"nice":false,"zero":false},"axis":{"values":[0,0.2,0.4,0.6,0.8,1],"title":"Propensity Score","domain":false,"tickSize":4,"labelPadding":4,"labelFlush":false,"titleY":24,"titleBaseline":"middle","labelExpr":"datum.value > 0 && datum.value < 1 ? replace(format(datum.value, '.1f'), '0.', '.') : format(datum.value, '~g')"}},
  "y":{"field":"density","type":"quantitative","stack":null,"scale":{"domain":[-0.069,2.714],"nice":false,"zero":false},"axis":{"values":[0,0.5,1,1.5,2,2.5],"title":"Smoothed Density","domain":false,"grid":true,"gridColor":"#ebebeb","tickSize":5,"labelAngle":-90,"labelAlign":"center","labelBaseline":"bottom","labelPadding":2,"labelFlush":false,"titleX":-23.3,"titleY":131,"titleAlign":"center","titleBaseline":"middle","labelExpr":"datum.value > 0 && datum.value < 1 ? replace(format(datum.value, '.1f'), '0.', '.') : format(datum.value, '~g')"}},
  "y2":{"datum":0},
  "color":{"field":"group","type":"nominal","scale":{"domain":["Treated","Untreated"],"range":["#8a8a8a","#cbcbcb"]},"legend":{"title":null,"orient":"none","legendX":290,"legendY":9,"symbolType":"M-4,-1.1H4V1.1H-4Z","symbolSize":100,"labelOffset":22,"rowPadding":0.4,"padding":0,"symbolStrokeColor":"#666666","symbolStrokeWidth":1,"symbolOpacity":1}}
 },
 "layer":[
  {"transform":[{"filter":"datum.group === 'Untreated'"}],"mark":{"type":"area","interpolate":"monotone","stroke":"#a8a8a8","strokeWidth":1,"opacity":1}},
  {"transform":[{"filter":"datum.group === 'Treated'"}],"mark":{"type":"area","interpolate":"monotone","stroke":"#595959","strokeWidth":1,"opacity":1}}
 ]
},
{"width":411,"height":262,
 "title":{"text":"h)\u00a0\u00a0\u00a0Standardized Bias: >20h of Care","dx":27.3,"offset":13.6},
 "encoding":{"x":{"field":"bias","type":"quantitative","scale":{"domain":[-10.73,16.96],"nice":false,"zero":false},"axis":{"values":[-10,-5,0,5,10,15],"title":"Standardized % bias across covariates","tickSize":4,"labelPadding":4,"labelFlush":false,"titleY":24,"titleBaseline":"middle","labelExpr":"'' + datum.value"}}},
 "layer":[
  {"data":{"values":[{"bias":0}]},"mark":{"type":"rule","color":"#9a9a9a","strokeWidth":1}},
  {"data":{"name":"bias_h"},"mark":{"type":"point","filled":true,"size":32,"opacity":1,"color":"#000000"},
   "encoding":{
    "y":{"field":"rank","type":"quantitative","scale":{"domain":[-1.65,51.65],"nice":false,"zero":false},"axis":{"values":[1,2,3,4,5,6,7,8,9,10,11,12,13,14,15,16,17,18,19,20,21,22,23,24,25,26,27,28,29,30,31,32,33,34,35,36,37,38,39,40,41,42,43,44,45,46,47,48,49],"labels":false,"ticks":false,"domain":true,"grid":true,"gridDash":[1,3],"gridColor":"#8a8a8a","title":null}},
    "shape":{"field":"series","type":"nominal","scale":{"domain":["Unmatched","Matched"],"range":["circle","M-0.7,-0.48L-0.48,-0.7L0,-0.22L0.48,-0.7L0.7,-0.48L0.22,0L0.7,0.48L0.48,0.7L0,0.22L-0.48,0.7L-0.7,0.48L-0.22,0Z"]},"legend":{"title":null,"orient":"bottom-right","offset":4,"strokeColor":"#666666","fillColor":"#ffffff","padding":4,"symbolSize":30,"labelOffset":5,"rowPadding":4,"symbolFillColor":"#000000","symbolStrokeWidth":0}}
   }}
 ]
}
],"spacing":74,"bounds":"flush","resolve":{"scale":{"color":"independent","shape":"independent"}}}
],
"spacing":17.8,
"resolve":{"scale":{"color":"independent","shape":"independent"}},
"config":{
 "view":{"stroke":null},
 "axis":{"labelFont":"Liberation Sans","labelFontSize":11,"labelColor":"#404040","titleFont":"Liberation Sans","titleFontSize":11,"titleFontWeight":"normal","titleColor":"#333333","tickColor":"#8c8c8c","domainColor":"#8c8c8c","grid":false},
 "title":{"font":"Liberation Serif","fontSize":24.5,"fontWeight":"normal","color":"#111111","anchor":"start","frame":"group","baseline":"alphabetic"},
 "legend":{"labelFont":"Liberation Sans","labelFontSize":11,"labelColor":"#333333"}
}
}
